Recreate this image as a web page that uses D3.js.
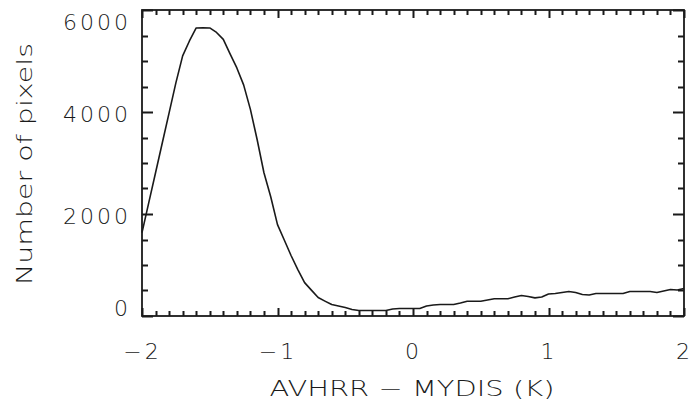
<!DOCTYPE html>
<html>
<head>
<meta charset="utf-8">
<script src="https://cdn.jsdelivr.net/npm/d3@7/dist/d3.min.js"></script>
<style>
  body { margin: 0; background: #fff; }
  text { font-family: "DejaVu Sans", sans-serif; font-weight: 200; fill: #1a1a1a; }
</style>
</head>
<body>
<svg id="chart" width="694" height="408"></svg>
<script>
// Histogram of brightness-temperature differences, 0.05 K bins
const binCenters = [
  -2.00, -1.95, -1.90, -1.85, -1.80, -1.75, -1.70, -1.65, -1.60, -1.55,
  -1.50, -1.45, -1.40, -1.35, -1.30, -1.25, -1.20, -1.15, -1.10, -1.05,
  -1.00, -0.95, -0.90, -0.85, -0.80, -0.75, -0.70, -0.65, -0.60, -0.55,
  -0.50, -0.45, -0.40, -0.35, -0.30, -0.25, -0.20, -0.15, -0.10, -0.05,
   0.00,  0.05,  0.10,  0.15,  0.20,  0.25,  0.30,  0.35,  0.40,  0.45,
   0.50,  0.55,  0.60,  0.65,  0.70,  0.75,  0.80,  0.85,  0.90,  0.95,
   1.00,  1.05,  1.10,  1.15,  1.20,  1.25,  1.30,  1.35,  1.40,  1.45,
   1.50,  1.55,  1.60,  1.65,  1.70,  1.75,  1.80,  1.85,  1.90,  1.95,
   2.00
];
const pixelCounts = [
  1635, 2222, 2809, 3397, 3984, 4571, 5100, 5393, 5648, 5650,
  5648, 5560, 5423, 5139, 4864, 4532, 4052, 3455, 2809, 2339,
  1791, 1490, 1186,  910,  654,  507,  362,  292,  225,  196,
   166,  127,  108,  108,  108,  108,  108,  137,  147,  147,
   147,  147,  196,  215,  225,  225,  225,  254,  290,  290,
   290,  313,  337,  337,  337,  372,  401,  382,  356,  372,
   431,  440,  460,  480,  460,  421,  411,  440,  440,  440,
   440,  440,  480,  480,  480,  480,  460,  489,  519,  509,
   538
];

const xTicks = [-2, -1, 0, 1, 2];
const xTickLabels = ["\u22122", "\u22121", "0", "1", "2"];
const yTicks = [0, 2000, 4000, 6000];
const yTickLabels = ["0", "2000", "4000", "6000"];
const xTitle = "AVHRR \u2212 MYDIS (K)";
const yTitle = "Number of pixels";

const svg = d3.select("#chart");
const plot = { left: 142, right: 684, top: 10, bottom: 316 };

const x = d3.scaleLinear().domain([-2, 2]).range([plot.left, plot.right]);
const y = d3.scaleLinear().domain([0, 6000]).range([plot.bottom, plot.top]);

const ink = "#1a1a1a";

// minor ticks every 0.1 K and every 500 pixels
const xMinor = d3.ticks(-2, 2, 40);
const yMinor = d3.ticks(0, 6000, 12);

// inward tick marks on all four sides
let tickD = "";
xMinor.forEach(v => {
  const px = Math.round(x(v)) + 0.5;
  const len = xTicks.includes(Math.round(v * 10) / 10) ? 8 : 5;
  tickD += `M${px},${plot.bottom}V${plot.bottom - len}`;
  tickD += `M${px},${plot.top}V${plot.top + len}`;
});
yMinor.forEach(v => {
  const py = Math.round(y(v)) + 0.5;
  const len = yTicks.includes(v) ? 11 : 6;
  tickD += `M${plot.left},${py}H${plot.left + len}`;
  tickD += `M${plot.right},${py}H${plot.right - len}`;
});

// frame
svg.append("rect")
  .attr("x", plot.left).attr("y", plot.top)
  .attr("width", plot.right - plot.left).attr("height", plot.bottom - plot.top)
  .attr("fill", "none").attr("stroke", ink).attr("stroke-width", 1.8);

svg.append("path")
  .attr("d", tickD)
  .style("fill", "none")
  .style("stroke", ink)
  .style("stroke-width", "2px");

// tick labels
const xLab = svg.append("g")
  .attr("transform", `translate(0,${plot.bottom})`)
  .call(d3.axisBottom(x).tickValues(xTicks).tickSize(0).tickPadding(0)
    .tickFormat((d, i) => xTickLabels[i]));
xLab.select(".domain").remove();
xLab.selectAll("text")
  .attr("y", 43).attr("dy", null)
  .attr("font-size", 22).attr("letter-spacing", 3)
  .style("font-family", '"DejaVu Sans", sans-serif')
  .style("font-weight", 200)
  .attr("fill", ink);

const yLab = svg.append("g")
  .attr("transform", `translate(${plot.left},0)`)
  .call(d3.axisLeft(y).tickValues(yTicks).tickSize(0).tickPadding(0)
    .tickFormat((d, i) => yTickLabels[i]));
yLab.select(".domain").remove();
yLab.selectAll(".tick").each(function (d) {
  // keep the end labels within the frame's height
  const py = y(d);
  const cy = Math.min(Math.max(py + 2, plot.top + 12), plot.bottom - 8);
  d3.select(this).attr("transform", `translate(0,${cy})`);
});
yLab.selectAll("text")
  .attr("x", -11).attr("dy", "0.36em")
  .attr("font-size", 22).attr("letter-spacing", 3)
  .style("font-family", '"DejaVu Sans", sans-serif')
  .style("font-weight", 200)
  .attr("fill", ink);

// histogram curve
const line = d3.line()
  .x((d, i) => x(binCenters[i]))
  .y(d => y(d));
svg.append("path")
  .datum(pixelCounts)
  .attr("d", line)
  .attr("fill", "none")
  .attr("stroke", ink)
  .attr("stroke-width", 1.6)
  .attr("stroke-linejoin", "round");

// axis titles
svg.append("text")
  .attr("x", 412).attr("y", 396)
  .attr("text-anchor", "middle")
  .attr("font-size", 22)
  .attr("textLength", 285).attr("lengthAdjust", "spacingAndGlyphs")
  .text(xTitle);

svg.append("text")
  .attr("transform", "translate(32,164) rotate(-90)")
  .attr("text-anchor", "middle")
  .attr("font-size", 22)
  .attr("textLength", 242).attr("lengthAdjust", "spacingAndGlyphs")
  .text(yTitle);
</script>
</body>
</html>
